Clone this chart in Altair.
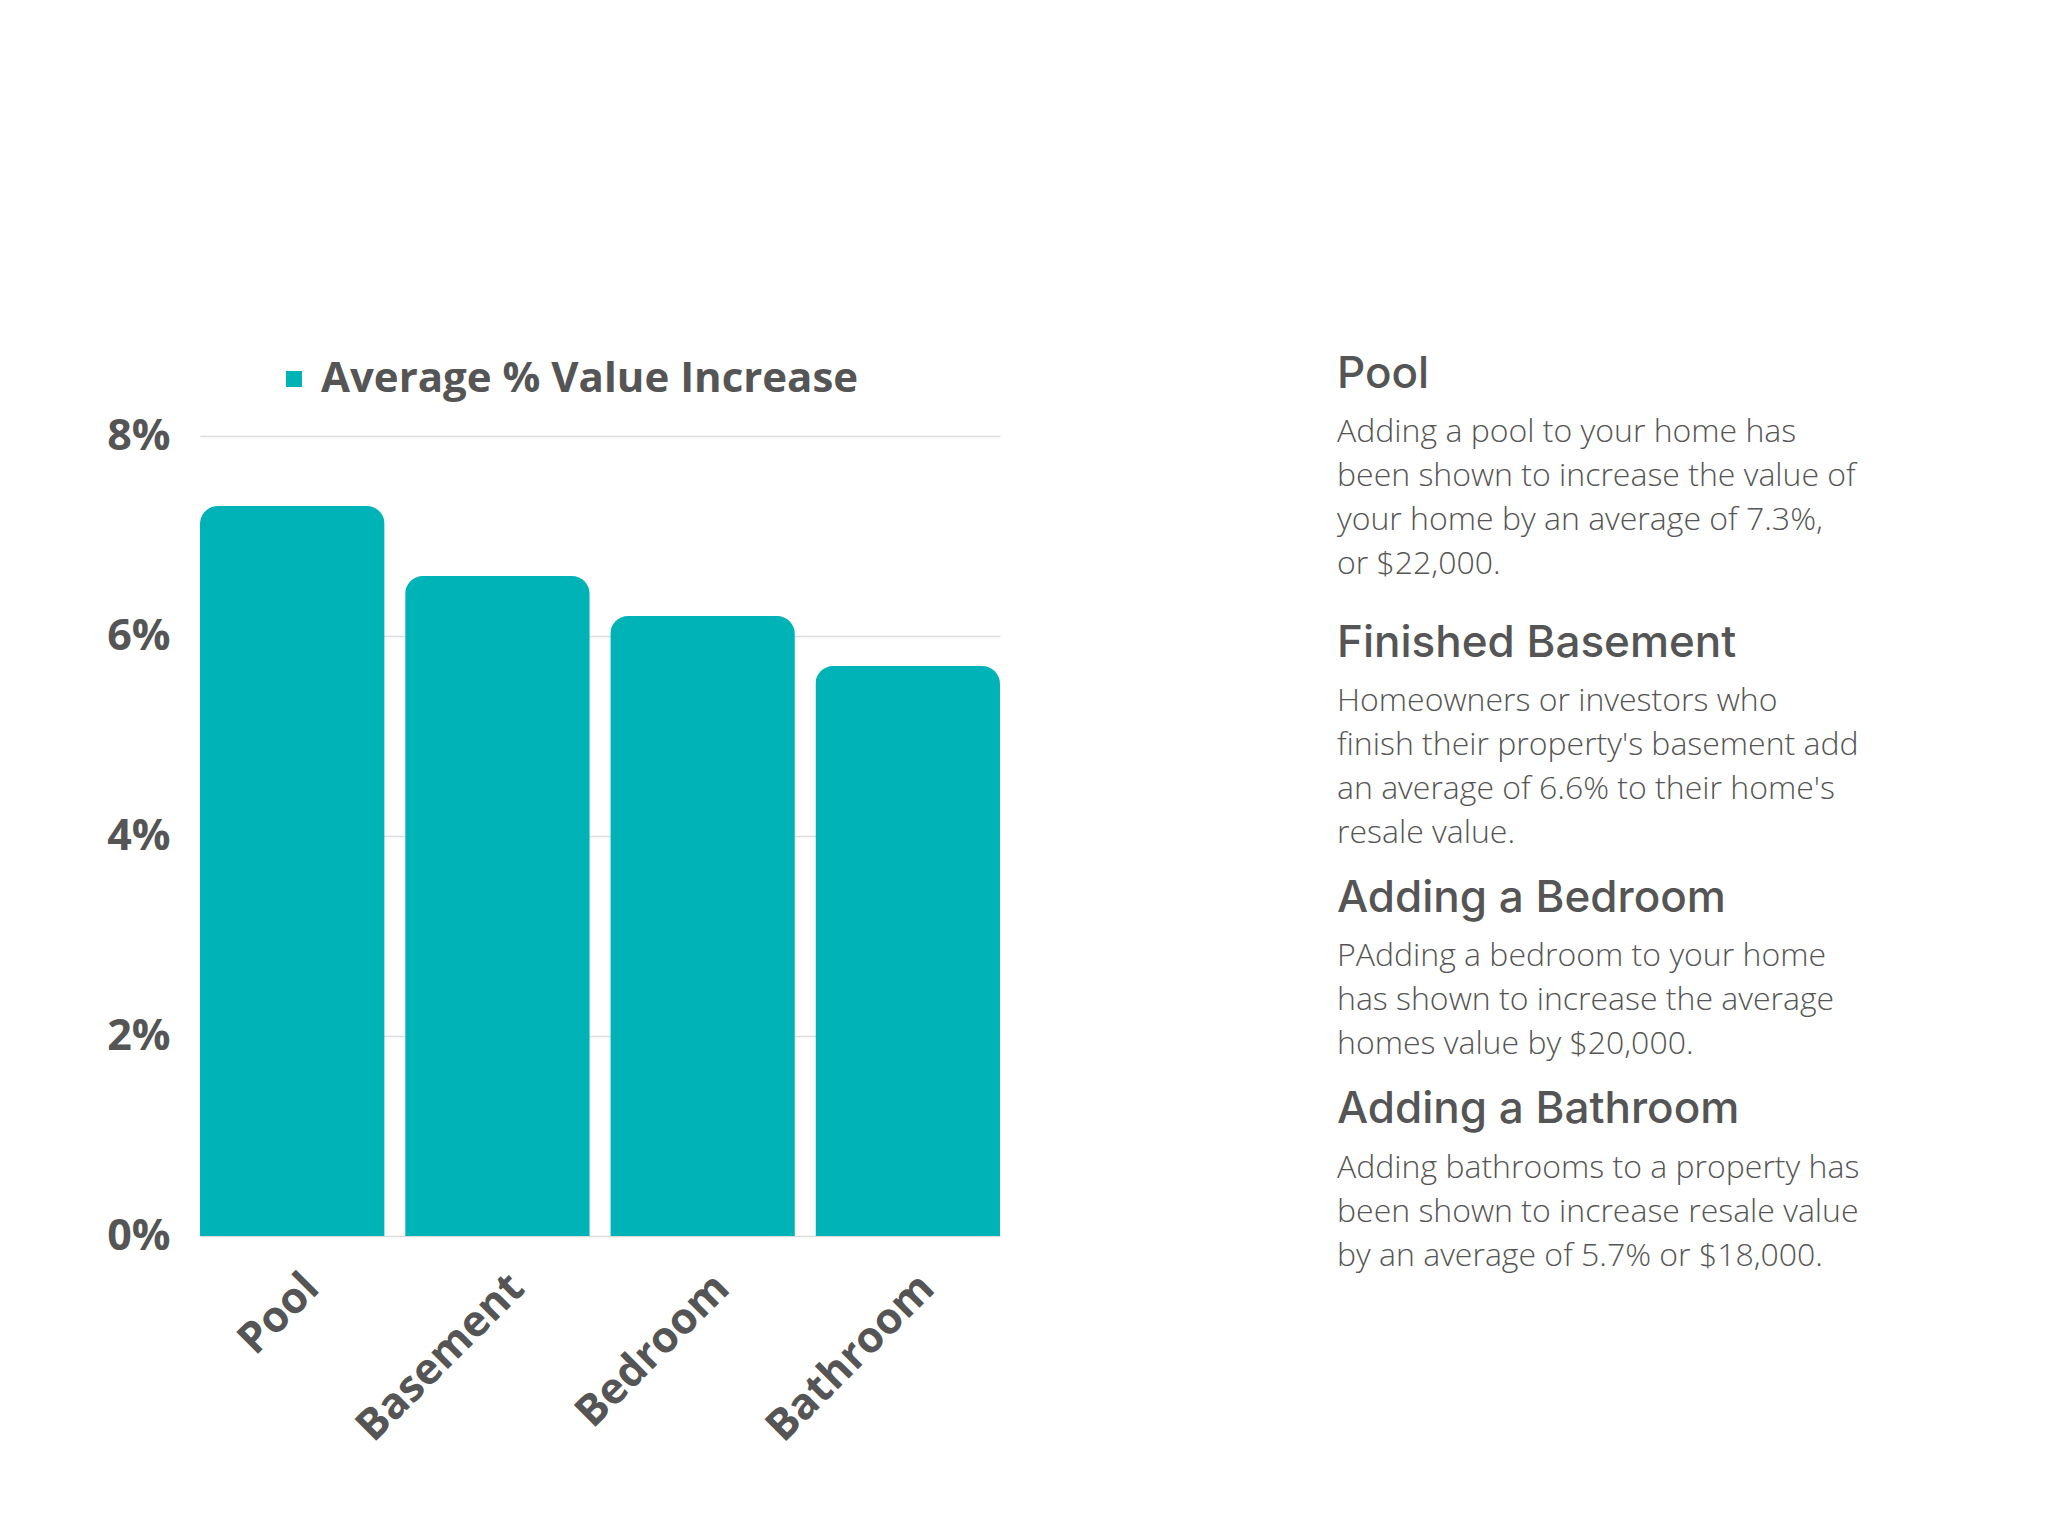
import altair as alt
import pandas as pd

categories = ["Pool", "Basement", "Bedroom", "Bathroom"]
values = [0.073, 0.066, 0.062, 0.057]
series_name = "Average % Value Increase"
y_ticks = [0, 0.02, 0.04, 0.06, 0.08]

headings = ["Pool", "Finished Basement", "Adding a Bedroom", "Adding a Bathroom"]
bodies = [
    ["Adding a pool to your home has", "been shown to increase the value of",
     "your home by an average of 7.3%,", "or $22,000."],
    ["Homeowners or investors who", "finish their property's basement add",
     "an average of 6.6% to their home's", "resale value."],
    ["PAdding a bedroom to your home", "has shown to increase the average",
     "homes value by $20,000."],
    ["Adding bathrooms to a property has", "been shown to increase resale value",
     "by an average of 5.7% or $18,000."],
]

TEAL = "#00B3B6"
GREY = "#555555"

df = pd.DataFrame({"cat": categories, "val": values, "series": [series_name] * 4})

bars = alt.Chart(df).mark_bar(
    cornerRadiusTopLeft=18, cornerRadiusTopRight=18
).encode(
    x=alt.X("cat:N", sort=categories, title=None,
            scale=alt.Scale(paddingInner=0.1, paddingOuter=0),
            axis=alt.Axis(labelAngle=-45, labelFont="Open Sans", labelFontWeight="bold",
                          labelFontSize=43, labelColor=GREY, ticks=False, domain=False,
                          labelPadding=30, grid=False, labelLimit=1000, labelOffset=5)),
    y=alt.Y("val:Q", title=None,
            scale=alt.Scale(domain=[0, 0.08], nice=False),
            axis=alt.Axis(values=y_ticks, format=".0%", labelFont="Open Sans",
                          labelFontWeight="bold", labelFontSize=43, labelColor=GREY,
                          ticks=False, domain=False, labelPadding=30,
                          gridColor="#dcdcdc", gridWidth=1.5)),
    color=alt.Color("series:N", title=None,
                    scale=alt.Scale(domain=[series_name], range=[TEAL]),
                    legend=alt.Legend(orient="none", legendX=73, legendY=-78,
                                      symbolType="square", symbolSize=256,
                                      symbolStrokeWidth=0,
                                      labelFont="Open Sans", labelFontWeight="bold",
                                      labelFontSize=42, labelColor=GREY,
                                      labelOffset=6, labelLimit=1000)),
)

head_y = [-61, 208, 463, 674]
body_y = [-19, 250, 505, 717]
TX = 1137

layers = [bars]
for h, b, hy, by in zip(headings, bodies, head_y, body_y):
    hdf = pd.DataFrame({"t": [h]})
    layers.append(alt.Chart(hdf).mark_text(
        align="left", baseline="middle", font="Inter", fontWeight=500,
        fontSize=44, color=GREY
    ).encode(text="t:N", x=alt.value(TX), y=alt.value(hy)))
    bdf = pd.DataFrame({"t": ["\n".join(b)]})
    layers.append(alt.Chart(bdf).mark_text(
        align="left", baseline="top", font="Open Sans", fontWeight=300,
        fontSize=32, color=GREY, lineBreak="\n", lineHeight=44
    ).encode(text="t:N", x=alt.value(TX), y=alt.value(by)))

chart = alt.layer(*layers).properties(
    width=800, height=800,
    padding={"left": 200, "top": 436, "right": 1048, "bottom": 300},
    autosize=alt.AutoSizeParams(type="none"),
    background="white",
).configure_view(strokeWidth=0)

chart.save("out.html", embed_options={"renderer": "svg", "actions": False})
